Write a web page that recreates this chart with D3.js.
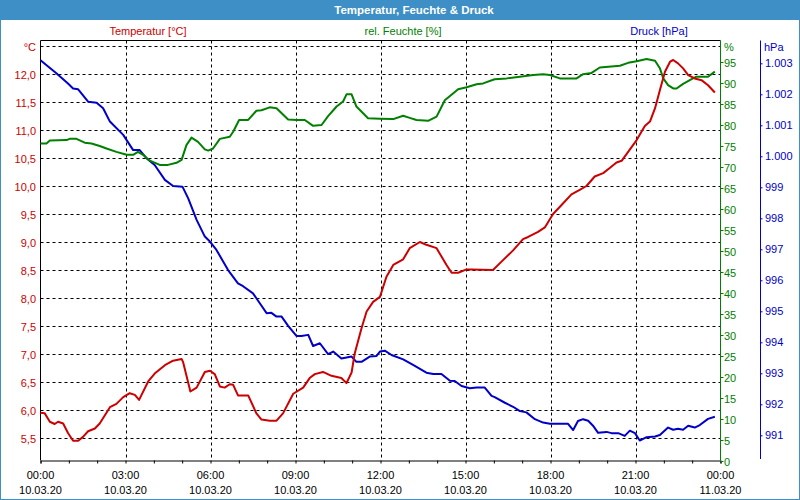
<!DOCTYPE html>
<html><head><meta charset="utf-8">
<script src="https://cdn.jsdelivr.net/npm/d3@7"></script>
<style>
html,body{margin:0;padding:0;background:#fff;}
svg{display:block;font-family:"Liberation Sans",Arial,sans-serif;}
</style></head>
<body>
<svg id="c" width="800" height="500"></svg>
<script>
// ---- data (hour of day, value) ----
const tempData = [[0,5.95],[0.15,5.94],[0.33,5.79],[0.5,5.75],[0.62,5.79],[0.8,5.76],[0.97,5.59],[1.15,5.45],[1.33,5.45],[1.5,5.52],[1.68,5.62],[1.92,5.67],[2.09,5.76],[2.45,6.05],[2.68,6.11],[2.92,6.23],[3.15,6.30],[3.33,6.27],[3.48,6.18],[3.8,6.51],[4.03,6.65],[4.39,6.80],[4.68,6.88],[4.98,6.91],[5.03,6.86],[5.29,6.33],[5.51,6.40],[5.8,6.68],[5.98,6.70],[6.15,6.64],[6.33,6.42],[6.5,6.40],[6.68,6.46],[6.8,6.45],[6.97,6.26],[7.33,6.26],[7.62,5.94],[7.8,5.83],[8.09,5.81],[8.33,5.81],[8.56,5.94],[8.92,6.29],[9.27,6.40],[9.5,6.57],[9.68,6.64],[9.97,6.68],[10.27,6.61],[10.62,6.57],[10.8,6.48],[10.98,6.67],[11.09,7.01],[11.33,7.46],[11.51,7.76],[11.74,7.93],[11.98,8.02],[12.21,8.38],[12.45,8.59],[12.8,8.69],[13.03,8.89],[13.39,9.0],[13.62,8.95],[13.98,8.89],[14.21,8.69],[14.33,8.59],[14.51,8.45],[14.74,8.45],[15.04,8.51],[15.21,8.51],[15.97,8.5],[16.27,8.65],[16.68,8.85],[17.03,9.05],[17.21,9.09],[17.56,9.18],[17.8,9.26],[18.09,9.5],[18.39,9.66],[18.74,9.85],[19.03,9.93],[19.27,10.0],[19.56,10.17],[19.86,10.23],[20.09,10.32],[20.33,10.42],[20.51,10.45],[20.74,10.61],[21.04,10.82],[21.33,11.07],[21.51,11.15],[21.69,11.39],[21.86,11.71],[22.04,12.04],[22.22,12.22],[22.33,12.25],[22.5,12.19],[22.68,12.10],[22.86,11.98],[23.09,11.92],[23.33,11.89],[23.56,11.80],[23.8,11.67]];

const humData = [[0,75.6],[0.21,75.6],[0.33,76.3],[0.92,76.4],[1.03,76.7],[1.27,76.7],[1.56,75.8],[1.8,75.6],[2.09,75.0],[2.33,74.4],[2.68,73.6],[3.04,72.9],[3.27,72.9],[3.44,73.6],[3.62,72.9],[3.86,71.5],[4.21,70.5],[4.5,70.5],[4.8,71.0],[4.98,71.7],[5.15,75.2],[5.33,77.0],[5.56,76.0],[5.8,74.2],[5.92,73.9],[6.09,74.4],[6.33,76.7],[6.68,77.2],[6.8,78.4],[7.01,81.2],[7.33,81.2],[7.62,83.4],[7.8,83.5],[8.09,84.2],[8.33,84.0],[8.74,81.3],[9.04,81.2],[9.33,81.2],[9.62,79.8],[9.92,80.0],[10.15,82.1],[10.45,84.4],[10.68,85.6],[10.8,87.3],[10.98,87.3],[11.15,84.4],[11.56,81.6],[11.98,81.5],[12.45,81.4],[12.8,82.2],[13.03,81.7],[13.27,81.2],[13.68,81.0],[13.98,82.0],[14.27,85.9],[14.74,88.5],[15.04,89.0],[15.39,89.7],[15.62,89.9],[16.03,90.9],[16.45,91.1],[16.92,91.5],[17.39,91.9],[17.74,92.1],[17.98,91.9],[18.33,91.1],[18.92,91.1],[19.15,92.1],[19.45,92.4],[19.74,93.7],[20.45,94.1],[20.74,94.8],[21.04,95.2],[21.39,95.7],[21.69,95.3],[21.86,93.5],[21.98,91.1],[22.15,89.5],[22.33,88.7],[22.45,88.7],[22.68,89.8],[22.98,90.9],[23.15,91.5],[23.56,91.5],[23.8,92.7]];

const pressData = [[0,1003.1],[0.56,1002.68],[0.97,1002.35],[1.15,1002.19],[1.33,1002.16],[1.68,1001.76],[1.98,1001.73],[2.21,1001.55],[2.45,1001.12],[2.92,1000.69],[3.27,1000.2],[3.5,1000.2],[3.74,999.94],[4.03,999.72],[4.39,999.24],[4.68,999.04],[5.01,999.02],[5.21,998.65],[5.51,997.95],[5.8,997.41],[5.98,997.25],[6.21,996.98],[6.42,996.65],[6.62,996.33],[6.97,995.9],[7.15,995.81],[7.5,995.58],[7.74,995.26],[7.98,994.94],[8.15,994.95],[8.33,994.83],[8.51,994.83],[8.74,994.53],[9.04,994.2],[9.21,994.2],[9.45,994.24],[9.62,993.88],[9.86,993.97],[10.15,993.62],[10.33,993.7],[10.62,993.48],[10.98,993.54],[11.15,993.37],[11.33,993.37],[11.62,993.54],[11.86,993.56],[11.98,993.7],[12.15,993.73],[12.39,993.59],[12.8,993.45],[13.15,993.27],[13.62,993.02],[13.86,992.98],[14.15,992.98],[14.45,992.76],[14.62,992.75],[14.86,992.59],[15.15,992.52],[15.39,992.54],[15.68,992.54],[15.92,992.27],[16.03,992.23],[16.39,992.05],[16.68,991.92],[16.92,991.78],[17.15,991.74],[17.45,991.52],[17.74,991.41],[17.98,991.37],[18.62,991.37],[18.8,991.17],[18.97,991.46],[19.15,991.52],[19.33,991.47],[19.5,991.31],[19.68,991.08],[19.98,991.11],[20.15,991.07],[20.39,991.07],[20.62,990.98],[20.8,991.15],[20.98,991.07],[21.15,990.83],[21.39,990.94],[21.69,990.96],[21.86,991.01],[22.15,991.25],[22.33,991.18],[22.5,991.21],[22.68,991.18],[22.86,991.31],[23.09,991.25],[23.27,991.33],[23.56,991.53],[23.8,991.6]];

// ---- tick labels ----
const timeTicks = [0,3,6,9,12,15,18,21,24];
const timeLabels = ["00:00","03:00","06:00","09:00","12:00","15:00","18:00","21:00","00:00"];
const dateLabels = ["10.03.20","10.03.20","10.03.20","10.03.20","10.03.20","10.03.20","10.03.20","10.03.20","11.03.20"];
const tempTicks = [5.5,6,6.5,7,7.5,8,8.5,9,9.5,10,10.5,11,11.5,12];
const humTicks = [0,5,10,15,20,25,30,35,40,45,50,55,60,65,70,75,80,85,90,95];
const pressTicks = [991,992,993,994,995,996,997,998,999,1000,1001,1002,1003];

const title = "Temperatur, Feuchte & Druck";
const seriesNames = ["Temperatur [°C]","rel. Feuchte [%]","Druck [hPa]"];

// ---- styles ----
const RED="#cc0000", GREEN="#008000", BLUE="#0000c8", BAR="#3d8fc6";
const L=40.5, R=720.5, T=40.5, B=460.5;

const loc = d3.formatLocale({decimal:",",thousands:".",grouping:[3],currency:["","€"]});
const fT = loc.format(".1f"), fP = loc.format(",d");

const svg = d3.select("#c");
svg.append("rect").attr("x",0.5).attr("y",0.5).attr("width",799).attr("height",499).attr("fill","#fff").attr("stroke",BAR);
svg.append("rect").attr("x",0).attr("y",0).attr("width",800).attr("height",20).attr("fill",BAR);
svg.append("text").attr("x",414).attr("y",10).attr("dy","0.35em").attr("text-anchor","middle")
  .attr("fill","#fff").attr("font-weight","bold").attr("font-size","11.5px").text(title);

const x = d3.scaleLinear().domain([0,24]).range([L,R]);
const yT = d3.scaleLinear().domain([5.5,12]).range([438,74]);
const yH = d3.scaleLinear().domain([0,100]).range([461,41]);
const yP = d3.scaleLinear().domain([991,1003]).range([435.3,63.3]);

// grid
const grid = svg.append("g").attr("stroke","#000").attr("stroke-dasharray","3,3").attr("stroke-width",1);
[...tempTicks,12.5].forEach(v=>{
  const yy = Math.round(yT(v))+0.5;
  grid.append("line").attr("x1",L).attr("x2",R).attr("y1",yy).attr("y2",yy);
});
timeTicks.slice(1,-1).forEach(v=>{
  const xx = Math.round(x(v))+0.5;
  grid.append("line").attr("x1",xx).attr("x2",xx).attr("y1",T).attr("y2",B);
});

// frame
svg.append("line").attr("x1",L).attr("x2",R).attr("y1",T).attr("y2",T).attr("stroke","#000");
svg.append("line").attr("x1",L).attr("x2",L).attr("y1",T).attr("y2",B).attr("stroke","#000");

// x axis
const xAxis = svg.append("g").attr("transform",`translate(0,${B})`)
  .call(d3.axisBottom(x).ticks(24).tickSize(3).tickFormat(""));
xAxis.select(".domain").attr("stroke","#000");
xAxis.selectAll(".tick line").attr("stroke","#000");
const xl = svg.append("g").attr("font-size","11px").attr("fill","#000").attr("text-anchor","middle");
timeTicks.forEach((t,i)=>{
  xl.append("text").attr("x",x(t)).attr("y",475).attr("dy","0.35em").text(timeLabels[i]);
  xl.append("text").attr("x",x(t)).attr("y",490).attr("dy","0.35em").text(dateLabels[i]);
});

// left temp labels
const tl = svg.append("g").attr("font-size","11px").attr("fill",RED).attr("text-anchor","end");
tempTicks.forEach(v=>tl.append("text").attr("x",36).attr("y",yT(v)+1).attr("dy","0.35em").text(fT(v)));
tl.append("text").attr("x",36).attr("y",47).attr("dy","0.35em").text("°C");

// humidity axis
const hAxis = svg.append("g").attr("transform",`translate(${R},0)`)
  .call(d3.axisRight(yH).tickValues(humTicks).tickSize(3).tickFormat(""));
hAxis.select(".domain").attr("stroke",GREEN).attr("d",`M0,${T}V${B}`);
hAxis.selectAll(".tick line").attr("stroke",GREEN);
const hl = svg.append("g").attr("font-size","11px").attr("fill",GREEN);
humTicks.forEach(v=>hl.append("text").attr("x",724).attr("y",yH(v)+1.5).attr("dy","0.35em").text(v));
hl.append("text").attr("x",724).attr("y",47).attr("dy","0.35em").text("%");

// pressure axis
const pAxis = svg.append("g").attr("transform",`translate(760.5,0)`)
  .call(d3.axisRight(yP).tickValues(pressTicks).tickSize(2).tickFormat(""));
pAxis.select(".domain").attr("stroke",BLUE).attr("d",`M0,${T}V459`);
pAxis.selectAll(".tick line").attr("stroke",BLUE);
const pl = svg.append("g").attr("font-size","11px").attr("fill",BLUE);
pressTicks.forEach(v=>pl.append("text").attr("x",765).attr("y",yP(v)).attr("dy","0.35em").text(fP(v)));
pl.append("text").attr("x",764).attr("y",47).attr("dy","0.35em").text("hPa");

// legend / series names
const lg = svg.append("g").attr("font-size","11px").attr("text-anchor","middle");
[[148,RED],[403,GREEN],[659,BLUE]].forEach((c,i)=>
  lg.append("text").attr("x",c[0]).attr("y",31).attr("dy","0.35em").attr("fill",c[1]).text(seriesNames[i]));

// lines
const mk = ys => d3.line().x(d=>x(d[0])).y(d=>ys(d[1]));
const lines = svg.append("g").attr("fill","none").attr("stroke-width",2).attr("stroke-linejoin","round");
lines.append("path").datum(pressData).attr("d",mk(yP)).attr("stroke",BLUE);
lines.append("path").datum(humData).attr("d",mk(yH)).attr("stroke",GREEN);
lines.append("path").datum(tempData).attr("d",mk(yT)).attr("stroke",RED);
</script>
</body></html>
